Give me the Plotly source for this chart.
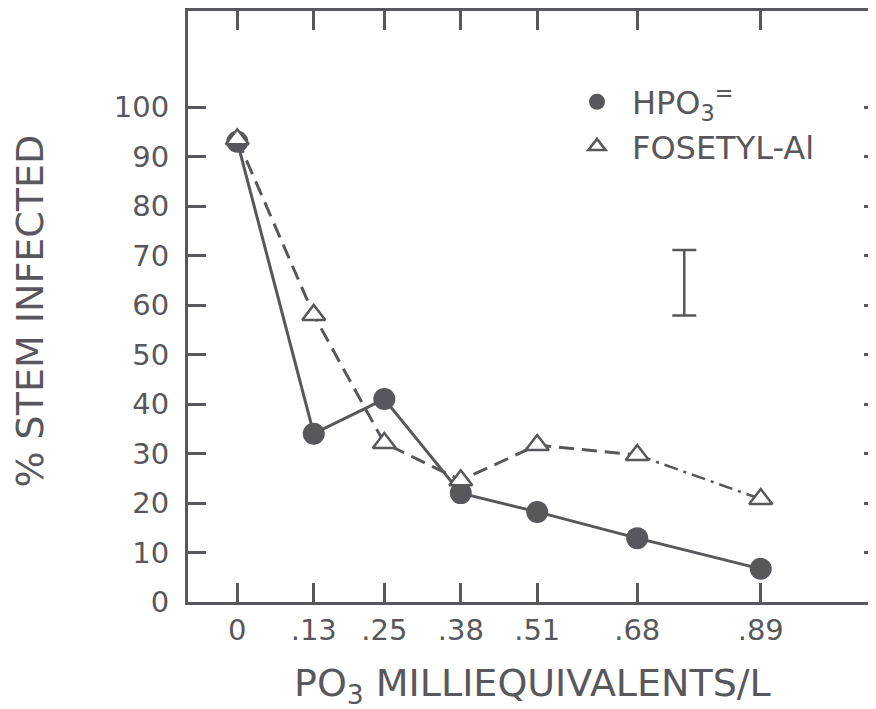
import plotly.graph_objects as go

# ---- data ----
dose = [0, 0.13, 0.25, 0.38, 0.51, 0.68, 0.89]
dose_labels = ["0", ".13", ".25", ".38", ".51", ".68", ".89"]
hpo3 = [93, 34, 41, 22, 18.2, 12.9, 6.7]
fosetyl = [93.5, 58, 32.1, 24.6, 31.7, 29.7, 20.8]
y_ticks = [0, 10, 20, 30, 40, 50, 60, 70, 80, 90, 100]
lsd_x = [0.76]
lsd_center = [64.5]
lsd_half = [6.6]

INK = "#58585c"
FONT = "DejaVu Sans"

fig = go.Figure()

# HPO3 (solid line, filled circles)
fig.add_trace(go.Scatter(
    x=dose, y=hpo3, mode="lines+markers", showlegend=False,
    line=dict(color=INK, width=3),
    marker=dict(symbol="circle", size=22, color=INK, line=dict(width=0)),
))

# Fosetyl-Al: dashed up to .68, dash-dot for last segment
fig.add_trace(go.Scatter(
    x=dose[:6], y=fosetyl[:6], mode="lines", showlegend=False,
    line=dict(color=INK, width=3, dash="15px,8px"),
))
fig.add_trace(go.Scatter(
    x=dose[5:], y=fosetyl[5:], mode="lines", showlegend=False,
    line=dict(color=INK, width=2.5, dash="14px,6px,3px,6px"),
))
fig.add_trace(go.Scatter(
    x=dose, y=fosetyl, mode="markers", showlegend=False,
    marker=dict(symbol="triangle-up", size=20, color="white",
                line=dict(color=INK, width=2.5)),
))

# LSD bar
fig.add_trace(go.Scatter(
    x=lsd_x, y=lsd_center, mode="markers", showlegend=False, yaxis="y2",
    marker=dict(size=1, color="rgba(0,0,0,0)"),
    error_y=dict(type="data", array=lsd_half, color=INK, thickness=2.5, width=12),
    hoverinfo="skip",
))

# legend-only entries (markers only)
fig.add_trace(go.Scatter(
    x=[None], y=[None], mode="markers", name="HPO<sub>3</sub><sup>=</sup>",
    marker=dict(symbol="circle", size=20, color=INK),
))
fig.add_trace(go.Scatter(
    x=[None], y=[None], mode="markers", name="FOSETYL-Al",
    marker=dict(symbol="triangle-up", size=15, color="white",
                line=dict(color=INK, width=2.5)),
))

YR = [0, 119.4]
XR = [-0.0838, 1.086]

fig.update_layout(
    width=868, height=701,
    margin=dict(l=180, r=0, t=3, b=107),
    paper_bgcolor="white", plot_bgcolor="white",
    font=dict(family=FONT, color=INK),
    showlegend=True,
    legend=dict(
        x=0.5436, y=0.808, xanchor="left", yanchor="middle",
        bgcolor="rgba(0,0,0,0)", borderwidth=0,
        font=dict(family=FONT, size=32, color=INK),
        itemwidth=60,
    ),
    xaxis=dict(
        range=XR, tickvals=dose, ticktext=dose_labels,
        showgrid=False, zeroline=False,
        showline=True, linecolor=INK, linewidth=3, mirror="ticks",
        ticks="inside", ticklen=19, tickwidth=2.5, tickcolor=INK,
        tickfont=dict(family=FONT, size=29, color=INK),
        ticklabelstandoff=0,
    ),
    yaxis=dict(
        range=YR, tickvals=y_ticks,
        showgrid=False, zeroline=False,
        showline=True, linecolor=INK, linewidth=3, mirror=False,
        ticks="inside", ticklen=18, tickwidth=2.5, tickcolor=INK,
        tickfont=dict(family=FONT, size=29, color=INK),
        ticklabelstandoff=10,
    ),
    yaxis2=dict(
        range=YR, tickvals=y_ticks, overlaying="y", side="right",
        matches="y",
        showgrid=False, zeroline=False, showline=False,
        showticklabels=False,
        ticks="inside", ticklen=12, tickwidth=3, tickcolor=INK,
    ),
    annotations=[
        dict(text="% STEM INFECTED", xref="paper", yref="paper",
             x=-0.2297, y=0.493, xanchor="center", yanchor="middle",
             textangle=-90, showarrow=False,
             font=dict(family=FONT, size=38, color=INK)),
        dict(text="PO<sub>3</sub> MILLIEQUIVALENTS/L", xref="paper", yref="paper",
             x=0.5, y=-0.142, xanchor="center", yanchor="middle",
             showarrow=False,
             font=dict(family=FONT, size=38, color=INK)),
    ],
)

fig.write_html("out.html")
